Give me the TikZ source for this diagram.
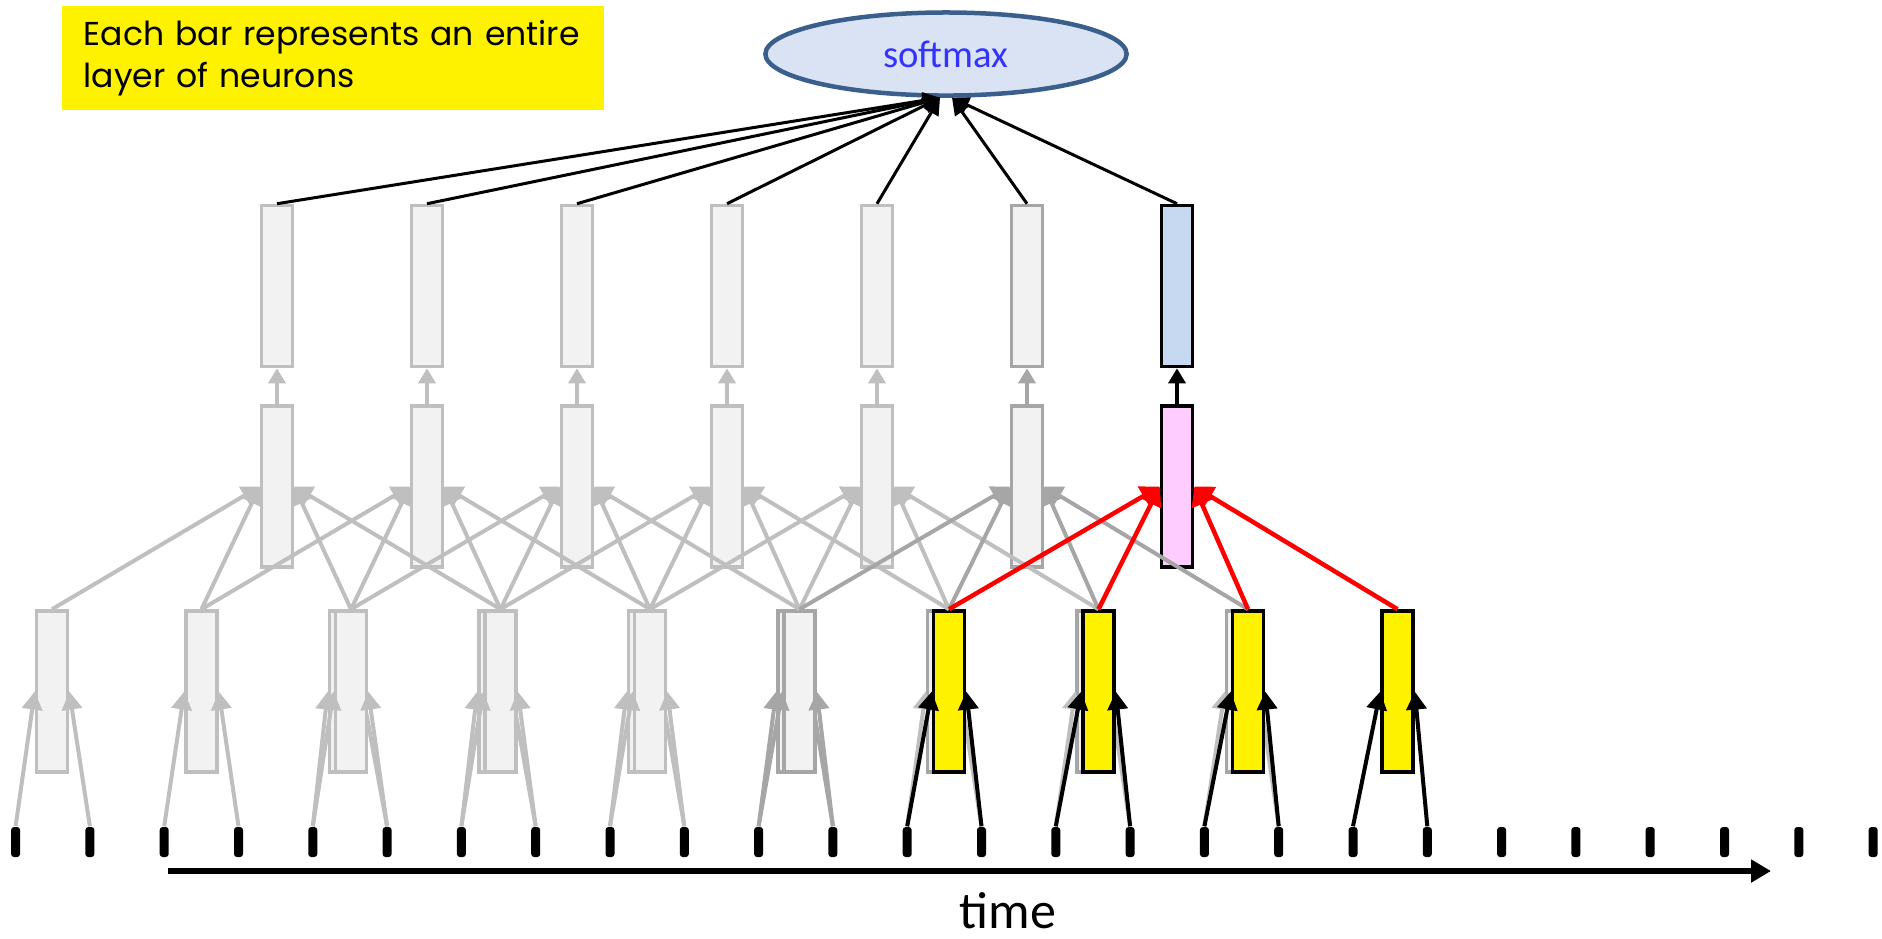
\documentclass[tikz,border=0pt]{standalone}
\usepackage{fontspec}
\usetikzlibrary{shapes.geometric, arrows.meta}
\setmainfont{Carlito}
\newfontfamily\notefont{Poppins}

\definecolor{barfill}{HTML}{F2F2F2}
\definecolor{barline}{HTML}{BFBFBF}
\definecolor{bardark}{HTML}{A6A6A6}
\definecolor{smfill}{HTML}{DAE3F3}
\definecolor{smline}{HTML}{3B5F8C}
\definecolor{smtext}{HTML}{3333FF}
\definecolor{outblue}{HTML}{C6D9F1}
\definecolor{hidpink}{HTML}{FFCCFF}

\begin{document}
\begin{tikzpicture}[x=0.01cm, y=-0.01cm,
    bar/.style={rectangle, draw=barline, fill=barfill, line width=0.035cm, minimum width=0.31cm, minimum height=1.61cm, inner sep=0pt},
    darkbar/.style={bar, draw=bardark},
    yelbar/.style={bar, draw=black, fill=yellow},
    pinkbar/.style={bar, draw=black, fill=hidpink},
    bluebar/.style={bar, draw=black, fill=outblue},
    tick/.style={rectangle, fill=black, rounded corners=0.03cm, minimum width=0.09cm, minimum height=0.30cm, inner sep=0pt},
    garrow/.style={-{Triangle[length=0.18cm, width=0.2cm]}, line width=0.04cm, draw=barline},
    darrow/.style={garrow, draw=bardark},
    karrow/.style={garrow, line width=0.04cm, draw=black},
    redarrow/.style={-{Triangle[length=0.19cm, width=0.21cm]}, line width=0.045cm, draw=red},
    uparrow/.style={-{Triangle[length=0.15cm, width=0.17cm]}, line width=0.035cm},
    smarrow/.style={-{Triangle[length=0.17cm, width=0.16cm]}, line width=0.03cm, draw=black},
    timearrow/.style={-{Triangle[length=0.2cm, width=0.22cm]}, line width=0.06cm, draw=black}
]
\useasboundingbox (0,0) rectangle (1882,938);

% note and softmax
\node[fill=yellow, minimum width=5.42cm, minimum height=1.04cm, inner xsep=0.22cm, text width=4.98cm, align=left, font=\notefont\fontsize{9.4}{11.8}\selectfont] (note) at (333,58) {Each bar represents an entire\\layer of neurons};
\node[ellipse, draw=smline, line width=0.045cm, fill=smfill, minimum width=3.61cm, minimum height=0.83cm, inner sep=0pt, text=smtext, font=\fontsize{11}{13}\selectfont] (sm) at (946,54) {softmax};

% time axis
\foreach \i in {0,...,25}
  \node[tick] (t\i) at ({15.6+74.3*\i}, 842) {};
\coordinate (tstart) at (168,871);
\coordinate (tend) at (1771,871);
\draw[timearrow] (tstart) -- (tend);
\node[anchor=base, font=\fontsize{14.8}{17}\selectfont] (tlabel) at (1008,928) {time};

% earlier frames of the first layer
\foreach \k/\st in {2/bar,3/bar,4/bar,5/darkbar,6/darkbar,7/darkbar,8/darkbar}
  \node[\st] (g\k) at ({46+149.5*\k}, 691.5) {};
\foreach \k/\ar in {2/garrow,3/garrow,4/garrow,5/darrow,6/garrow,7/garrow,8/garrow} {
  \pgfmathtruncatemacro\ta{2*\k}
  \pgfmathtruncatemacro\tb{2*\k+1}
  \draw[\ar] (t\ta.north) -- (g\k.west);
  \draw[\ar] (t\tb.north) -- (g\k.east);
}

% first layer
\foreach \k/\st/\ar in {0/bar/garrow,1/bar/garrow,2/bar/garrow,3/bar/garrow,4/bar/garrow,5/darkbar/darrow,6/yelbar/karrow,7/yelbar/karrow,8/yelbar/karrow,9/yelbar/karrow} {
  \node[\st] (b\k) at ({52+149.5*\k}, 691.5) {};
  \pgfmathtruncatemacro\ta{2*\k}
  \pgfmathtruncatemacro\tb{2*\k+1}
  \draw[\ar] (t\ta.north) -- (b\k.west);
  \draw[\ar] (t\tb.north) -- (b\k.east);
}

% second and output layers
\foreach \j/\st/\sto in {0/bar/bar,1/bar/bar,2/bar/bar,3/bar/bar,4/bar/bar,5/darkbar/darkbar,6/pinkbar/bluebar} {
  \node[\st] (m\j) at ({277+150*\j}, 486.5) {};
  \node[\sto] (o\j) at ({277+150*\j}, 286) {};
}

% first layer -> second layer
\foreach \j/\ar in {0/garrow,1/garrow,2/garrow,3/garrow,4/garrow,5/darrow,6/redarrow} {
  \pgfmathtruncatemacro\ka{\j+1}
  \pgfmathtruncatemacro\kb{\j+2}
  \pgfmathtruncatemacro\kc{\j+3}
  \draw[\ar] (b\j.north) -- (m\j.west);
  \draw[\ar] (b\ka.north) -- (m\j.west);
  \draw[\ar] (b\kb.north) -- (m\j.east);
  \draw[\ar] (b\kc.north) -- (m\j.east);
}

% second layer -> output layer -> softmax
\foreach \j/\c/\s in {0/barline/-6,1/barline/-6,2/barline/-6,3/barline/-6,4/barline/-6,5/bardark/6,6/black/6} {
  \draw[uparrow, draw=\c] (m\j.north) -- (o\j.south);
  \draw[smarrow] (o\j.north) -- ([xshift=\s*0.01cm]sm.south);
}

\end{tikzpicture}
\end{document}
